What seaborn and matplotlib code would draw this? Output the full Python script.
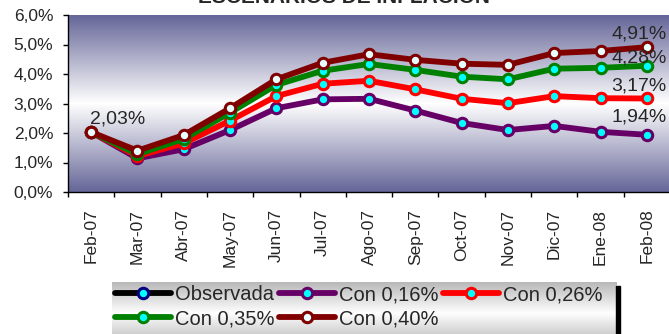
"""
Escenarios de inflacion: serie observada y cuatro escenarios.
"""

import numpy as np
import pandas as pd
import matplotlib
matplotlib.use("Agg")
import matplotlib.pyplot as plt
from matplotlib.colors import LinearSegmentedColormap
from matplotlib.patches import Rectangle
from matplotlib.ticker import FuncFormatter, FixedLocator
import seaborn as sns

# Datos (en %)
meses = ["Feb-07", "Mar-07", "Abr-07", "May-07", "Jun-07", "Jul-07", "Ago-07",
         "Sep-07", "Oct-07", "Nov-07", "Dic-07", "Ene-08", "Feb-08"]
observada = [2.03, np.nan, np.nan, np.nan, np.nan, np.nan, np.nan,
             np.nan, np.nan, np.nan, np.nan, np.nan, np.nan]
con_016 = [2.03, 1.14, 1.45, 2.10, 2.84, 3.14, 3.16, 2.76, 2.34, 2.10, 2.24, 2.04, 1.94]
con_026 = [2.03, 1.22, 1.65, 2.42, 3.25, 3.67, 3.77, 3.48, 3.16, 3.01, 3.25, 3.18, 3.17]
con_035 = [2.03, 1.28, 1.80, 2.69, 3.63, 4.11, 4.34, 4.14, 3.91, 3.82, 4.18, 4.21, 4.28]
con_040 = [2.03, 1.40, 1.93, 2.84, 3.82, 4.38, 4.67, 4.48, 4.35, 4.31, 4.71, 4.78, 4.91]

sns.set_style("ticks")
plt.rcParams["font.family"] = ["Liberation Sans", "DejaVu Sans"]

fig = plt.figure(figsize=(6.69, 3.34), dpi=100)
W, H = 669, 334
ax = fig.add_axes([68 / W, 1 - 192 / H, (670 - 68) / W, (192 - 15) / H])

series = [
    # nombre, valores, color, borde marcador, relleno marcador, zorder
    ("Observada", observada, "black", "#000080", "#00FFFF", 2),
    ("Con 0,16%", con_016, "#660066", "#660066", "#00FFFF", 3),
    ("Con 0,26%", con_026, "#FF0000", "#FF0000", "#00FFFF", 4),
    ("Con 0,35%", con_035, "#008000", "#008000", "#00FFFF", 5),
    ("Con 0,40%", con_040, "#800000", "#800000", "#E8FFFF", 6),
]

for nombre, vals, color, borde, relleno, z in series:
    df = pd.DataFrame({"mes": meses, "valor": vals}).dropna()
    sns.lineplot(data=df, x="mes", y="valor", ax=ax, color=color, lw=4.2,
                 marker="o", markersize=7.5, markeredgecolor=borde,
                 markerfacecolor=relleno, markeredgewidth=2.2,
                 sort=False, errorbar=None, label=nombre, zorder=z)

# fondo degradado del area de trazado
cmap = LinearSegmentedColormap.from_list("fondo", ["#666699", "#FFFFFF", "#666699"])
grad = np.linspace(0, 1, 256).reshape(-1, 1)
ax.imshow(grad, extent=[-0.5, 12.5, 0, 6], aspect="auto", cmap=cmap, zorder=0)

ax.set_xlim(-0.5, 12.5)
ax.set_ylim(0, 6)
ax.yaxis.set_major_locator(FixedLocator([0, 1, 2, 3, 4, 5, 6]))
ax.yaxis.set_major_formatter(FuncFormatter(lambda v, p: f"{v:.1f}%".replace(".", ",")))
ax.set_xticks(range(len(meses)))
ax.set_xticklabels(meses, rotation=90, fontsize=12.5)
ax.set_xticks(np.arange(-0.5, 12.5, 1), minor=True)
ax.tick_params(axis="x", which="major", length=0, pad=12)
ax.tick_params(axis="x", which="minor", length=3.6, width=1, color="black", direction="out")
ax.tick_params(axis="y", length=3.6, width=1, color="black", direction="out",
               labelsize=12.5, pad=7)
ax.set_xlabel("")
ax.set_ylabel("")
for s in ["top", "right"]:
    ax.spines[s].set_visible(False)
for s in ["left", "bottom"]:
    ax.spines[s].set_color("black")
    ax.spines[s].set_linewidth(1)
    ax.spines[s].set_zorder(10)

# etiquetas de datos
ax.annotate("2,03%", xy=(0, con_016[0]), xytext=(-1, 5), textcoords="offset pixels",
            ha="left", va="bottom", fontsize=14, zorder=12)
finales = [(con_040, "4,91%", 5), (con_035, "4,28%", -1), (con_026, "3,17%", 4),
           (con_016, "1,94%", 9)]
for vals, txt, dy in finales:
    ax.annotate(txt, xy=(12, vals[-1]), xytext=(20, dy), textcoords="offset pixels",
                ha="right", va="bottom", fontsize=14, zorder=12, annotation_clip=False)

# titulo (cortado en la parte superior, como en el original)
fig.text(344 / W, 1 - 3 / H, "ESCENARIOS DE INFLACION", ha="center", va="baseline",
         fontsize=15, fontweight="bold")

# leyenda con fondo degradado
handles, labels = ax.get_legend_handles_labels()
ax.get_legend().remove()
orden = [0, 3, 1, 4, 2]
legax = fig.add_axes([112 / W, -10 / H, (617 - 112) / W, 62 / H])
cmap_leg = LinearSegmentedColormap.from_list("leg", ["#B8B8B8", "#FFFFFF", "#B8B8B8"])
legax.imshow(grad, extent=[0, 1, 0, 1], aspect="auto", cmap=cmap_leg)
legax.set_axis_off()
legax.legend([handles[i] for i in orden], [labels[i] for i in orden],
             loc="upper left", bbox_to_anchor=(0.0, 1.0), ncol=3, frameon=False,
             fontsize=14.5, handlelength=2.8, handletextpad=0.2, columnspacing=0.2,
             labelspacing=0.25, borderpad=0.15, borderaxespad=0.0)
fig.patches.append(Rectangle((616 / W, 0), 4 / W, (334 - 286) / H,
                             transform=fig.transFigure, color="black", zorder=20))

fig.savefig("out.png", dpi=100)
